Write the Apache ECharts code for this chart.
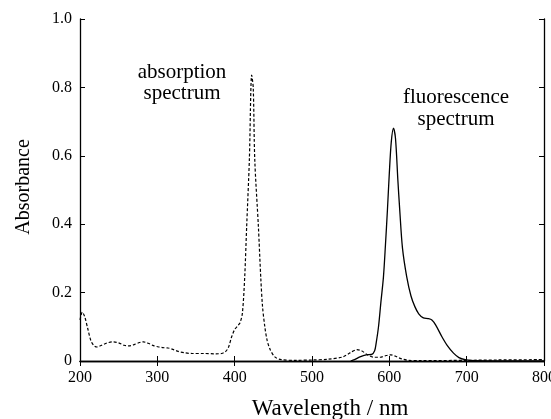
<!DOCTYPE html>
<html>
<head>
<meta charset="utf-8">
<script src="https://cdn.jsdelivr.net/npm/echarts@6/dist/echarts.min.js"></script>
<style>
html,body{margin:0;padding:0;background:#fff;}
#c{width:551px;height:419px;}
</style>
</head>
<body>
<div id="c"></div>
<script>
var absWavelength = [200,203,206,210,214,218,222,228,235,243,250,257,263,270,277,282,288,295,302,308,314,320,327,335,345,360,375,383,388,392,396,400,404,407,410,413,415.5,419,422,424,426,430.7,433.7,436,439,442,446,452,460,480,500,520,540,550,558,564,572,580,588,596,602,608,615,625,640,700,740,800];
var absValues = [0.12,0.143,0.13,0.095,0.06,0.045,0.041,0.046,0.053,0.056,0.053,0.046,0.044,0.048,0.054,0.056,0.052,0.045,0.041,0.039,0.038,0.034,0.028,0.024,0.022,0.022,0.021,0.022,0.027,0.04,0.07,0.092,0.103,0.112,0.14,0.246,0.392,0.588,0.836,0.8,0.588,0.392,0.246,0.16,0.1,0.06,0.033,0.012,0.004,0.002,0.003,0.005,0.012,0.025,0.033,0.03,0.018,0.011,0.011,0.016,0.018,0.014,0.007,0.002,0.001,0.002,0.003,0.004];
var fluWavelength = [550,555,562,570,577,581,583,586,589,592.4,595,597.5,600,602.5,605.3,608,611,613.5,617,622.5,628,633,638,644,650,655,660,668,675,683,690,698,710,800];
var fluValues = [0,0.004,0.012,0.018,0.019,0.03,0.053,0.1,0.17,0.246,0.34,0.44,0.55,0.64,0.681,0.65,0.53,0.44,0.33,0.246,0.19,0.159,0.138,0.126,0.124,0.12,0.105,0.071,0.045,0.023,0.01,0.004,0.001,0];
var xTicks = [200,300,400,500,600,700,800];
var yTicks = ['0','0.2','0.4','0.6','0.8','1.0'];

function pairs(xs, ys){ return xs.map(function(x,i){return [x, ys[i]];}); }

var font = '"Liberation Serif", "DejaVu Serif", serif';
var chart = echarts.init(document.getElementById('c'));
var tickStyle = {show:true, inside:true, length:5, lineStyle:{color:'#000', width:1}};
var lineStyle = {show:true, lineStyle:{color:'#000', width:1.3}};
chart.setOption({
  animation:false,
  grid:{left:80, right:7, top:19, bottom:58, outerBoundsMode:'none', containLabel:false},
  xAxis:[{
    type:'value', min:200, max:800, interval:100,
    axisLine:lineStyle, axisTick:tickStyle, splitLine:{show:false},
    axisLabel:{color:'#000', fontFamily:font, fontSize:16, margin:9, hideOverlap:false,
      formatter:function(v){ var i = xTicks.indexOf(v); return i>=0 ? String(xTicks[i]) : ''; }}
  },{
    type:'value', min:200, max:800, interval:100, position:'top',
    axisLine:lineStyle, axisTick:tickStyle, axisLabel:{show:false}, splitLine:{show:false}
  }],
  yAxis:[{
    type:'value', min:0, max:1, interval:0.2,
    axisLine:lineStyle, axisTick:tickStyle, splitLine:{show:false},
    axisLabel:{color:'#000', fontFamily:font, fontSize:16, margin:8,
      formatter:function(v){ return yTicks[Math.round(v/0.2)]; }}
  },{
    type:'value', min:0, max:1, interval:0.2, position:'right',
    axisLine:lineStyle, axisTick:tickStyle, axisLabel:{show:false}, splitLine:{show:false}
  }],
  series:[{
    type:'line', data:pairs(absWavelength, absValues), smooth:0.3, showSymbol:false,
    lineStyle:{color:'#000', width:1.2, type:[3,2]}
  },{
    type:'line', data:pairs(fluWavelength, fluValues), smooth:0.3, showSymbol:false,
    lineStyle:{color:'#000', width:1.3}
  }],
  graphic:[
    {type:'text', x:182, y:83, style:{text:'absorption\nspectrum', fill:'#000', font:'21px '+font, align:'center', verticalAlign:'middle', lineHeight:21}},
    {type:'text', x:456, y:108, style:{text:'fluorescence\nspectrum', fill:'#000', font:'21px '+font, align:'center', verticalAlign:'middle', lineHeight:22}},
    {type:'text', x:330, y:409, style:{text:'Wavelength / nm', fill:'#000', font:'23px '+font, align:'center', verticalAlign:'middle'}},
    {type:'text', x:24, y:187, rotation:Math.PI/2, style:{text:'Absorbance', fill:'#000', font:'20px '+font, align:'center', verticalAlign:'middle'}}
  ]
});
</script>
</body>
</html>
